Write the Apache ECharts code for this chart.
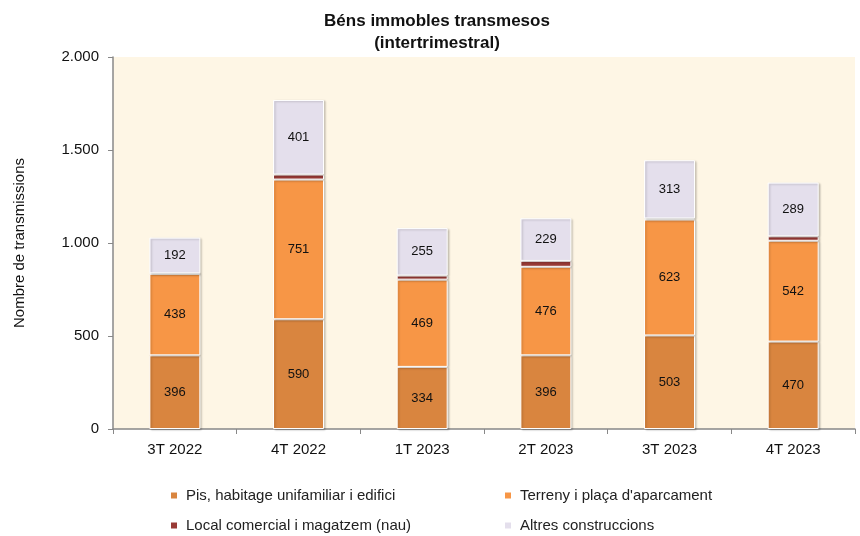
<!DOCTYPE html>
<html>
<head>
<meta charset="utf-8">
<script src="https://cdn.jsdelivr.net/npm/echarts@6/dist/echarts.min.js"></script>
<style>
  html, body { margin: 0; padding: 0; background: #fff; }
  #main { width: 860px; height: 536px; }
</style>
</head>
<body>
<div id="main"></div>
<script>
const quarters = ["3T 2022", "4T 2022", "1T 2023", "2T 2023", "3T 2023", "4T 2023"];
const pis = [396, 590, 334, 396, 503, 470];
const terreny = [438, 751, 469, 476, 623, 542];
const local = [3, 27, 22, 32, 6, 24];
const altres = [192, 401, 255, 229, 313, 289];
const yTicks = [0, 500, 1000, 1500, 2000];

const chart = echarts.init(document.getElementById("main"));

function fmt(v) {
  return String(v).replace(/\B(?=(\d{3})+(?!\d))/g, ".");
}

const barStyle = {
  borderColor: "#fff",
  borderWidth: 1,
  shadowBlur: 2,
  shadowColor: "rgba(0,0,0,0.2)",
  shadowOffsetX: 1.5,
  shadowOffsetY: 1,
};
const labelStyle = {
  show: true,
  position: "inside",
  color: "#111",
  fontSize: 13,
  fontFamily: "Liberation Sans, Arial, sans-serif",
};

function legendItem(name, left, top) {
  return {
    data: [name],
    left: left,
    top: top,
    icon: "rect",
    itemWidth: 8,
    itemHeight: 8,
    itemGap: 0,
    textStyle: { fontSize: 15, color: "#222", fontFamily: "Liberation Sans, Arial, sans-serif", padding: [0, 0, 0, 3] },
  };
}

chart.setOption({
  animation: false,
  textStyle: { fontFamily: "Liberation Sans, Arial, sans-serif" },
  title: {
    text: "Béns immobles transmesos\n(intertrimestral)",
    left: 432,
    textAlign: "center",
    top: 5,
    textStyle: { fontSize: 17, fontWeight: "bold", color: "#111", lineHeight: 22 },
  },
  legend: [
    legendItem("Pis, habitage unifamiliar i edifici", 164, 483),
    legendItem("Terreny i plaça d'aparcament", 498, 483),
    legendItem("Local comercial i magatzem (nau)", 164, 513),
    legendItem("Altres construccions", 498, 513),
  ],
  grid: {
    left: 113,
    right: 5,
    top: 57,
    bottom: 107,
    show: true,
    backgroundColor: "#FEF6E5",
    borderWidth: 0,
  },
  xAxis: {
    type: "category",
    data: quarters,
    axisLine: { lineStyle: { color: "#888", width: 1.5 } },
    axisTick: { show: true, length: 5, lineStyle: { color: "#888" } },
    axisLabel: { color: "#111", fontSize: 15, margin: 13 },
  },
  yAxis: {
    type: "value",
    min: yTicks[0],
    max: yTicks[yTicks.length - 1],
    interval: 500,
    name: "Nombre de transmissions",
    nameLocation: "middle",
    nameRotate: 90,
    nameGap: 86,
    nameTextStyle: { fontSize: 15, color: "#111" },
    splitLine: { show: false },
    axisLine: { show: true, lineStyle: { color: "#888", width: 1.5 } },
    axisTick: { show: true, length: 5, lineStyle: { color: "#888" } },
    axisLabel: { color: "#111", fontSize: 15, margin: 14, formatter: fmt },
  },
  series: [
    {
      name: "Pis, habitage unifamiliar i edifici",
      type: "bar",
      stack: "total",
      barWidth: 51,
      data: pis,
      itemStyle: Object.assign({ color: "#D9853F" }, barStyle),
      label: labelStyle,
    },
    {
      name: "Terreny i plaça d'aparcament",
      type: "bar",
      stack: "total",
      data: terreny,
      itemStyle: Object.assign({ color: "#F79646" }, barStyle),
      label: labelStyle,
    },
    {
      name: "Local comercial i magatzem (nau)",
      type: "bar",
      stack: "total",
      data: local,
      itemStyle: Object.assign({ color: "#993B36" }, barStyle),
      label: { show: false },
    },
    {
      name: "Altres construccions",
      type: "bar",
      stack: "total",
      data: altres,
      itemStyle: Object.assign({ color: "#E4DFEC" }, barStyle),
      label: labelStyle,
    },
  ],
});
</script>
</body>
</html>
